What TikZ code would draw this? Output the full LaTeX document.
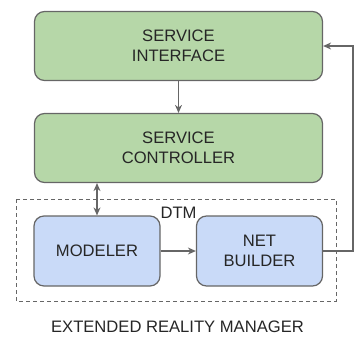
\documentclass[tikz,border=0pt]{standalone}
\usepackage{fontspec}
\setmainfont{Liberation Sans}
\usetikzlibrary{arrows.meta}
\definecolor{edgegrey}{HTML}{666666}
\definecolor{svcgreen}{HTML}{B6D7A8}
\definecolor{dtmblue}{HTML}{C9DAF8}
\begin{document}
\begin{tikzpicture}[x=1pt,y=-1pt,
  font=\fontsize{16.6}{20}\selectfont,
  block/.style={draw=edgegrey, line width=1.2pt, rounded corners=10pt,
    align=center, inner sep=0pt, text=black!85},
  svc/.style={block, fill=svcgreen, minimum width=288pt, minimum height=69pt},
  dtm/.style={block, fill=dtmblue, minimum width=126pt, minimum height=70pt},
  link/.style={draw=edgegrey, line width=1.2pt, -{Stealth[length=8pt,width=7pt]}},
  frame/.style={draw=edgegrey, line width=1pt, dash pattern=on 4pt off 3pt}]
  \useasboundingbox (0,0) rectangle (354,338);
  % outer DTM frame
  \draw[frame] (16,199) rectangle (336,301);
  \node[text=black!85] (dtmlabel) at (178.5,213) {DTM};
  % blocks
  \node[svc] (iface) at (178.5,46) {SERVICE\\INTERFACE};
  \node[svc] (ctrl) at (178.5,148) {SERVICE\\CONTROLLER};
  \node[dtm] (model) at (97,251) {MODELER};
  \node[dtm] (net) at (259.5,251) {NET\\BUILDER};
  \coordinate (loopA) at (353,251);
  \coordinate (loopB) at (353,46);
  % connectors
  \draw[link] (iface.south) -- (ctrl.north);
  \draw[link, {Stealth[length=8pt,width=7pt]}-{Stealth[length=8pt,width=7pt]}]
    (ctrl.south -| model.north) -- (model.north);
  \draw[link] (model.east) -- (net.west);
  \draw[link] (net.east) -- (loopA) -- (loopB) -- (iface.east);
  % caption
  \node[text=black!85] (caption) at (177.5,327) {EXTENDED REALITY MANAGER};
\end{tikzpicture}
\end{document}
